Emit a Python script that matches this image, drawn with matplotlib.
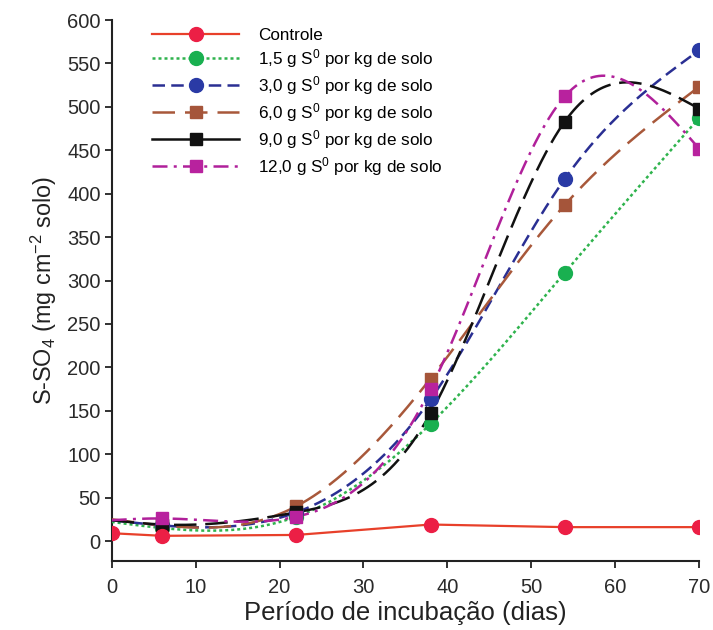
import numpy as np
import matplotlib
matplotlib.use("Agg")
import matplotlib.pyplot as plt
from matplotlib.lines import Line2D

plt.rcParams['font.family'] = ['Liberation Sans', 'DejaVu Sans']
plt.rcParams['mathtext.default'] = 'regular'

# days of incubation
dias = [0, 6, 22, 38, 54, 70]

controle = [9, 6, 7, 19, 16, 16]
s_1_5 = [22, 15, 28, 135, 309, 487]
s_3_0 = [24, 18, 33, 163, 417, 565]
s_6_0 = [25, 18, 40, 187, 387, 523]
s_9_0 = [24, 19, 33, 147, 483, 498]
s_12_0 = [24, 26, 28, 175, 512, 452]

labels = ['Controle',
          '1,5 g S$^{0}$ por kg de solo',
          '3,0 g S$^{0}$ por kg de solo',
          '6,0 g S$^{0}$ por kg de solo',
          '9,0 g S$^{0}$ por kg de solo',
          '12,0 g S$^{0}$ por kg de solo']


def natural_spline(x, y, xs):
    # plain natural cubic spline, just to draw the smooth curves
    x = np.asarray(x, float)
    y = np.asarray(y, float)
    n = len(x)
    h = np.diff(x)
    A = np.zeros((n, n))
    b = np.zeros(n)
    A[0, 0] = A[-1, -1] = 1
    for i in range(1, n - 1):
        A[i, i - 1] = h[i - 1]
        A[i, i] = 2 * (h[i - 1] + h[i])
        A[i, i + 1] = h[i]
        b[i] = 3 * ((y[i + 1] - y[i]) / h[i] - (y[i] - y[i - 1]) / h[i - 1])
    c = np.linalg.solve(A, b)
    out = np.empty_like(xs)
    for k, xv in enumerate(xs):
        i = min(np.searchsorted(x, xv, side='right') - 1, n - 2)
        i = max(i, 0)
        dx = xv - x[i]
        bi = (y[i + 1] - y[i]) / h[i] - h[i] * (2 * c[i] + c[i + 1]) / 3
        di = (c[i + 1] - c[i]) / (3 * h[i])
        out[k] = y[i] + bi * dx + c[i] * dx ** 2 + di * dx ** 3
    return out


fig = plt.figure(figsize=(7.13, 6.30), dpi=100)
ax = fig.add_axes([111.7 / 713, 1 - 561 / 630, (699 - 111.7) / 713, (561 - 20) / 630])

xs = np.linspace(0, 70, 400)

# control: straight segments
ax.plot(dias, controle, color='#e8402a', linewidth=1.6, marker='o', markersize=10,
        markerfacecolor='#ec1f45', markeredgecolor='#ec1f45', zorder=5)

treat = [
    (s_1_5, '#2fb34d', (0, (1.2, 1.2)), 'o', '#19b050', 10),
    (s_3_0, '#2a2f93', (0, (5, 2.5)), 'o', '#2a3aa5', 10),
    (s_6_0, '#a8583a', (0, (9, 4)), 's', '#a5553a', 8.5),
    (s_9_0, '#111111', (0, (9, 3.5)), 's', '#111111', 8.5),
    (s_12_0, '#b0209a', (0, (6, 2.5, 1.2, 2.5)), 's', '#b8229e', 8.5),
]
for vals, col, ls, mk, mcol, ms in treat:
    ax.plot(xs, natural_spline(dias, vals, xs), color=col, linestyle=ls, linewidth=1.8, zorder=3)
    ax.plot(dias[1:], vals[1:], linestyle='none', marker=mk, markersize=ms,
            markerfacecolor=mcol, markeredgecolor=mcol, zorder=4)

handles = [Line2D([], [], color='#e8402a', lw=1.6, marker='o', ms=10,
                  mfc='#ec1f45', mec='#ec1f45')]
legend_ls = [(0, (1.2, 1.2)), (0, (5, 2.5)), (0, (9, 4)), '-', (0, (6, 2.5, 1.2, 2.5))]
for (vals, col, ls, mk, mcol, ms), lls in zip(treat, legend_ls):
    handles.append(Line2D([], [], color=col, linestyle=lls, lw=1.8, marker=mk, ms=ms,
                          mfc=mcol, mec=mcol))

ax.legend(handles, labels, loc='upper left', bbox_to_anchor=(152 / 713, 1 - 28 / 630),
          bbox_transform=fig.transFigure, frameon=False, fontsize=12.3,
          handlelength=5.1, handletextpad=1.1, labelspacing=0.24,
          borderpad=0, borderaxespad=0)

ax.set_xlim(0, 70)
ax.set_ylim(-23, 600)
ax.set_xticks(range(0, 71, 10))
ax.set_yticks(range(0, 601, 50))
ax.spines['top'].set_visible(False)
ax.spines['right'].set_visible(False)
ax.spines['left'].set_bounds(-23, 600)
for s in ('left', 'bottom'):
    ax.spines[s].set_linewidth(1.5)
    ax.spines[s].set_color('#222222')
ax.tick_params(axis='both', labelsize=14.5, width=1.3, length=5, color='#222222',
               labelcolor='#2a2a2a')
ax.tick_params(axis='x', pad=7)
ax.tick_params(axis='y', pad=3)

ax.set_xlabel('Período de incubação (dias)', fontsize=18.5, color='#222222', labelpad=3)
ax.set_ylabel('S-SO$_4$ (mg cm$^{-2}$ solo)', fontsize=16.8, color='#222222', labelpad=6)

fig.savefig('out.png', dpi=100)
